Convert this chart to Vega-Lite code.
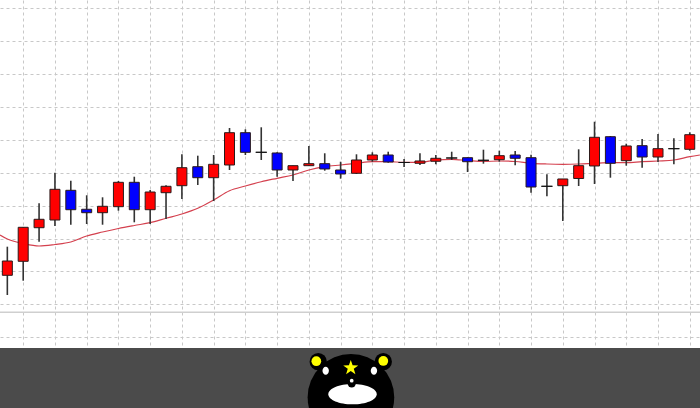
{
  "$schema": "https://vega.github.io/schema/vega-lite/v6.json",
  "width": 700,
  "height": 408,
  "padding": 0,
  "autosize": {"type": "fit", "contains": "padding"},
  "background": "#ffffff",
  "config": {
    "view": {"stroke": null},
    "axis": {"grid": true, "gridColor": "#c8c8c8", "gridDash": [3, 3], "gridWidth": 1, "labels": false, "ticks": false, "domain": false}
  },
  "datasets": {
    "candles": [
      {"i":0,"o":18.84,"h":27.54,"l":12.86,"c":23.19,"t":"up"},
      {"i":1,"o":23.1,"h":33.43,"l":17.2,"c":33.43,"t":"up"},
      {"i":2,"o":33.31,"h":40.73,"l":29.06,"c":35.87,"t":"up"},
      {"i":3,"o":35.65,"h":50.03,"l":33.83,"c":44.98,"t":"up"},
      {"i":4,"o":44.68,"h":47.6,"l":34.22,"c":38.78,"t":"down"},
      {"i":5,"o":38.91,"h":43.16,"l":34.44,"c":37.87,"t":"down"},
      {"i":6,"o":37.87,"h":42.55,"l":34.22,"c":39.82,"t":"up"},
      {"i":7,"o":39.7,"h":47.51,"l":38.48,"c":47.11,"t":"up"},
      {"i":8,"o":47.11,"h":48.81,"l":34.95,"c":38.78,"t":"down"},
      {"i":9,"o":38.78,"h":44.77,"l":34.44,"c":44.16,"t":"up"},
      {"i":10,"o":43.95,"h":46.2,"l":35.96,"c":45.9,"t":"up"},
      {"i":11,"o":46.08,"h":55.62,"l":42.04,"c":51.55,"t":"up"},
      {"i":12,"o":51.85,"h":55.2,"l":46.29,"c":48.51,"t":"down"},
      {"i":13,"o":48.51,"h":55.41,"l":41.43,"c":52.58,"t":"up"},
      {"i":14,"o":52.37,"h":63.62,"l":50.85,"c":62.19,"t":"up"},
      {"i":15,"o":62.19,"h":63.22,"l":55.41,"c":56.23,"t":"down"},
      {"i":16,"o":56.23,"h":63.83,"l":53.89,"c":56.23,"t":"doji"},
      {"i":17,"o":56.02,"h":56.23,"l":48.81,"c":50.85,"t":"down"},
      {"i":18,"o":50.85,"h":52.16,"l":47.51,"c":52.16,"t":"up"},
      {"i":19,"o":52.16,"h":58.15,"l":52.16,"c":52.77,"t":"up"},
      {"i":20,"o":52.77,"h":55.93,"l":50.64,"c":51.16,"t":"down"},
      {"i":21,"o":50.85,"h":53.37,"l":48.21,"c":49.64,"t":"down"},
      {"i":22,"o":49.85,"h":55.62,"l":49.64,"c":53.89,"t":"up"},
      {"i":23,"o":53.89,"h":56.23,"l":53.37,"c":55.41,"t":"up"},
      {"i":24,"o":55.41,"h":56.41,"l":53.07,"c":53.28,"t":"down"},
      {"i":25,"o":53.13,"h":54.19,"l":51.76,"c":53.13,"t":"doji"},
      {"i":26,"o":52.89,"h":55.93,"l":52.37,"c":53.59,"t":"up"},
      {"i":27,"o":53.5,"h":55.41,"l":52.58,"c":54.41,"t":"up"},
      {"i":28,"o":54.5,"h":56.41,"l":53.89,"c":54.5,"t":"doji"},
      {"i":29,"o":54.59,"h":54.71,"l":50.24,"c":53.37,"t":"down"},
      {"i":30,"o":53.8,"h":57.02,"l":52.77,"c":53.8,"t":"doji"},
      {"i":31,"o":53.98,"h":56.72,"l":53.37,"c":55.2,"t":"up"},
      {"i":32,"o":55.41,"h":56.63,"l":52.28,"c":54.41,"t":"down"},
      {"i":33,"o":54.59,"h":55.5,"l":43.95,"c":45.68,"t":"down"},
      {"i":34,"o":45.9,"h":49.54,"l":42.86,"c":45.9,"t":"doji"},
      {"i":35,"o":46.08,"h":48.12,"l":35.35,"c":48.12,"t":"up"},
      {"i":36,"o":48.27,"h":57.14,"l":45.99,"c":52.16,"t":"up"},
      {"i":37,"o":52.07,"h":65.53,"l":46.6,"c":60.79,"t":"up"},
      {"i":38,"o":60.97,"h":61.19,"l":48.51,"c":52.89,"t":"down"},
      {"i":39,"o":53.68,"h":58.84,"l":52.16,"c":58.15,"t":"up"},
      {"i":40,"o":58.24,"h":60.27,"l":51.55,"c":54.8,"t":"down"},
      {"i":41,"o":54.8,"h":61.79,"l":53.28,"c":57.33,"t":"up"},
      {"i":42,"o":57.33,"h":60.49,"l":52.58,"c":57.33,"t":"doji"},
      {"i":43,"o":57.14,"h":62.31,"l":56.72,"c":61.58,"t":"up"}
    ],
    "ma": [
      {"i":-0.46,"v":31.09},{"i":0,"v":29.88},{"i":1,"v":28.51},{"i":2,"v":27.75},{"i":3,"v":28.21},
      {"i":4,"v":28.97},{"i":5,"v":30.79},{"i":6,"v":32.0},{"i":7,"v":33.07},{"i":8,"v":33.98},
      {"i":9,"v":34.83},{"i":10,"v":36.17},{"i":11,"v":37.48},{"i":12,"v":39.21},{"i":13,"v":41.73},
      {"i":14,"v":44.56},{"i":15,"v":45.99},{"i":16,"v":47.29},{"i":17,"v":48.33},{"i":18,"v":49.33},
      {"i":19,"v":50.85},{"i":20,"v":51.85},{"i":21,"v":52.37},{"i":22,"v":52.89},{"i":23,"v":53.37},
      {"i":24,"v":53.37},{"i":25,"v":53.19},{"i":26,"v":53.19},{"i":27,"v":53.89},{"i":28,"v":54.1},
      {"i":29,"v":53.74},{"i":30,"v":53.43},{"i":31,"v":53.59},{"i":32,"v":53.43},{"i":33,"v":52.89},
      {"i":34,"v":52.67},{"i":35,"v":52.58},{"i":36,"v":52.67},{"i":37,"v":52.89},{"i":38,"v":53.07},
      {"i":39,"v":53.07},{"i":40,"v":53.37},{"i":41,"v":53.59},{"i":42,"v":53.89},{"i":43,"v":54.89},
      {"i":43.64,"v":55.41}
    ],
    "bear": [
      {"part":"ear","i":19.59,"p":-7.42},
      {"part":"ear","i":23.69,"p":-7.42},
      {"part":"earin","i":19.47,"p":-7.26},
      {"part":"earin","i":23.69,"p":-7.2},
      {"part":"head","i":21.65,"p":-18.24},
      {"part":"star","i":21.64,"p":-9.3},
      {"part":"eye","i":20.06,"p":-10.15},
      {"part":"eye","i":23.1,"p":-10.15},
      {"part":"muzzle","i":21.75,"p":-17.29},
      {"part":"nose","i":21.7,"p":-13.98},
      {"part":"nosedot","i":21.7,"p":-13.19}
    ]
  },
  "layer": [
    {
      "data": {"values": [{"a": 1}]},
      "mark": {"type": "rect", "color": "#4b4b4b", "clip": true},
      "encoding": {
        "x": {"datum": -0.462, "type": "quantitative", "scale": {"domain": [-0.462, 43.646], "nice": false, "zero": false, "padding": 0},
              "axis": {"title": null, "tickCount": 100, "values": [1,3,5,7,9,11,13,15,17,19,21,23,25,27,29,31,33,35,37,39,41,43]}},
        "x2": {"datum": 43.646},
        "y": {"datum": -3.25, "type": "quantitative", "scale": {"domain": [-21.49, 102.52], "nice": false, "zero": false, "padding": 0},
              "axis": {"title": null, "tickCount": 100, "values": [0,10,20,30,40,50,60,70,80,90,100]}},
        "y2": {"datum": -21.49}
      }
    },
    {
      "data": {"values": [{"a": 1}]},
      "mark": {"type": "rule", "color": "#cfcfcf", "strokeWidth": 1.5, "clip": true},
      "encoding": {"y": {"datum": 7.6, "type": "quantitative", "axis": {"title": null}}}
    },
    {
      "data": {"name": "ma"},
      "mark": {"type": "line", "color": "#d4404e", "strokeWidth": 1.2, "interpolate": "monotone", "clip": true},
      "encoding": {
        "x": {"field": "i", "type": "quantitative", "axis": {"title": null}},
        "y": {"field": "v", "type": "quantitative", "axis": {"title": null}}
      }
    },
    {
      "data": {"name": "candles"},
      "mark": {"type": "rule", "color": "#333333", "strokeWidth": 1.6},
      "encoding": {
        "x": {"field": "i", "type": "quantitative", "axis": {"title": null}},
        "y": {"field": "l", "type": "quantitative", "axis": {"title": null}},
        "y2": {"field": "h"}
      }
    },
    {
      "data": {"name": "candles"},
      "transform": [{"filter": "datum.t != 'doji'"}],
      "mark": {"type": "bar", "size": 10, "stroke": "#2a1a1a", "strokeWidth": 1},
      "encoding": {
        "x": {"field": "i", "type": "quantitative", "axis": {"title": null}},
        "y": {"field": "o", "type": "quantitative", "axis": {"title": null}},
        "y2": {"field": "c"},
        "fill": {"field": "t", "type": "nominal", "scale": {"domain": ["up", "down"], "range": ["#ff0000", "#0000ff"]}, "legend": null}
      }
    },
    {
      "data": {"name": "candles"},
      "transform": [{"filter": "datum.t == 'doji'"}],
      "mark": {"type": "bar", "size": 11, "stroke": "#111111", "strokeWidth": 1, "fill": "#111111"},
      "encoding": {
        "x": {"field": "i", "type": "quantitative", "axis": {"title": null}},
        "y": {"field": "o", "type": "quantitative", "axis": {"title": null}},
        "y2": {"field": "c"}
      }
    },
    {
      "data": {"name": "bear"},
      "transform": [{"filter": "datum.part == 'ear'"}],
      "mark": {"type": "point", "shape": "circle", "filled": true, "color": "#000000", "size": 300, "opacity": 1, "clip": true},
      "encoding": {"x": {"field": "i", "type": "quantitative", "axis": {"title": null}}, "y": {"field": "p", "type": "quantitative", "axis": {"title": null}}}
    },
    {
      "data": {"name": "bear"},
      "transform": [{"filter": "datum.part == 'earin'"}],
      "mark": {"type": "point", "shape": "circle", "filled": true, "color": "#ffff00", "size": 95, "opacity": 1, "clip": true},
      "encoding": {"x": {"field": "i", "type": "quantitative", "axis": {"title": null}}, "y": {"field": "p", "type": "quantitative", "axis": {"title": null}}}
    },
    {
      "data": {"name": "bear"},
      "transform": [{"filter": "datum.part == 'head'"}],
      "mark": {"type": "point", "shape": "circle", "filled": true, "color": "#000000", "size": 7500, "opacity": 1, "clip": true},
      "encoding": {"x": {"field": "i", "type": "quantitative", "axis": {"title": null}}, "y": {"field": "p", "type": "quantitative", "axis": {"title": null}}}
    },
    {
      "data": {"name": "bear"},
      "transform": [{"filter": "datum.part == 'star'"}],
      "mark": {"type": "point", "shape": "M0,-1L0.235,-0.324L0.951,-0.309L0.38,0.124L0.588,0.809L0,0.4L-0.588,0.809L-0.38,0.124L-0.951,-0.309L-0.235,-0.324Z", "filled": true, "color": "#ffff00", "size": 250, "opacity": 1, "clip": true},
      "encoding": {"x": {"field": "i", "type": "quantitative", "axis": {"title": null}}, "y": {"field": "p", "type": "quantitative", "axis": {"title": null}}}
    },
    {
      "data": {"name": "bear"},
      "transform": [{"filter": "datum.part == 'eye'"}],
      "mark": {"type": "point", "shape": "M-0.8,0A0.8,1,0,1,0,0.8,0A0.8,1,0,1,0,-0.8,0Z", "filled": true, "color": "#ffffff", "size": 64, "opacity": 1, "clip": true},
      "encoding": {"x": {"field": "i", "type": "quantitative", "axis": {"title": null}}, "y": {"field": "p", "type": "quantitative", "axis": {"title": null}}}
    },
    {
      "data": {"name": "bear"},
      "transform": [{"filter": "datum.part == 'muzzle'"}],
      "mark": {"type": "point", "shape": "M-1,0A1,0.42,0,1,0,1,0A1,0.42,0,1,0,-1,0Z", "filled": true, "color": "#ffffff", "size": 2343, "opacity": 1, "clip": true},
      "encoding": {"x": {"field": "i", "type": "quantitative", "axis": {"title": null}}, "y": {"field": "p", "type": "quantitative", "axis": {"title": null}}}
    },
    {
      "data": {"name": "bear"},
      "transform": [{"filter": "datum.part == 'nose'"}],
      "mark": {"type": "point", "shape": "circle", "filled": true, "color": "#000000", "size": 70, "opacity": 1, "clip": true},
      "encoding": {"x": {"field": "i", "type": "quantitative", "axis": {"title": null}}, "y": {"field": "p", "type": "quantitative", "axis": {"title": null}}}
    },
    {
      "data": {"name": "bear"},
      "transform": [{"filter": "datum.part == 'nosedot'"}],
      "mark": {"type": "point", "shape": "circle", "filled": true, "color": "#ffffff", "size": 14, "opacity": 1, "clip": true},
      "encoding": {"x": {"field": "i", "type": "quantitative", "axis": {"title": null}}, "y": {"field": "p", "type": "quantitative", "axis": {"title": null}}}
    }
  ]
}
